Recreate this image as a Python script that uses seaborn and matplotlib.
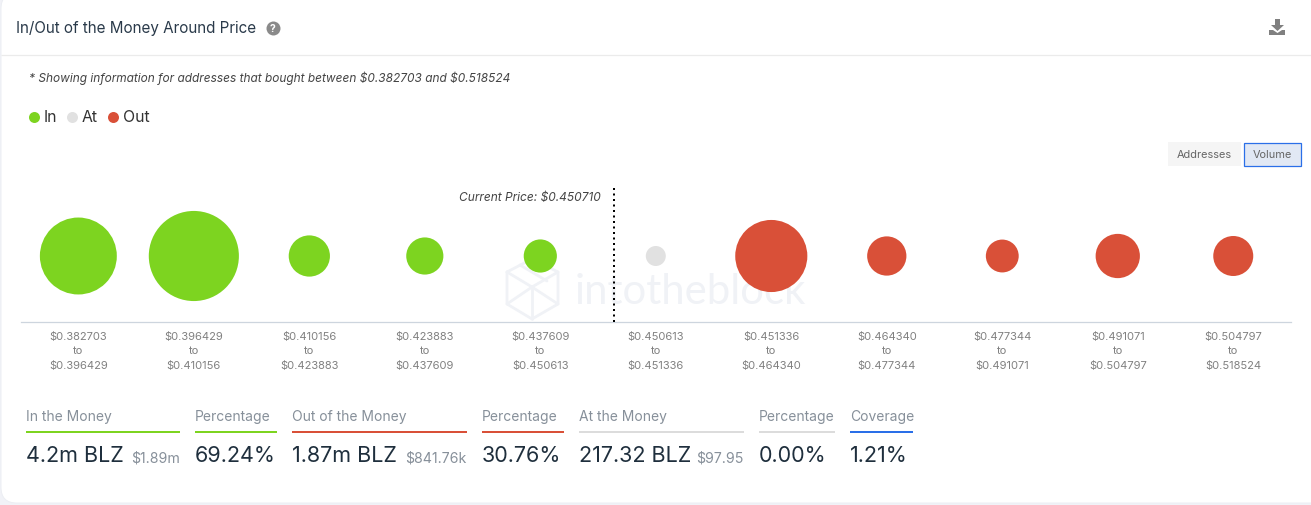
import numpy as np
import pandas as pd
import seaborn as sns
import matplotlib
matplotlib.use("Agg")
import matplotlib.pyplot as plt
from matplotlib.lines import Line2D
from matplotlib.patches import FancyBboxPatch, Polygon, Rectangle

bin_low = ["$0.382703", "$0.396429", "$0.410156", "$0.423883", "$0.437609", "$0.450613",
           "$0.451336", "$0.464340", "$0.477344", "$0.491071", "$0.504797"]
bin_high = ["$0.396429", "$0.410156", "$0.423883", "$0.437609", "$0.450613", "$0.451336",
            "$0.464340", "$0.477344", "$0.491071", "$0.504797", "$0.518524"]
status = ["In", "In", "In", "In", "In", "At", "Out", "Out", "Out", "Out", "Out"]
bubble_value = [1480, 2030, 425, 345, 275, 100, 1300, 385, 270, 490, 400]
current_price_pos = 4.64

stat_labels = ["In the Money", "Percentage", "Out of the Money", "Percentage",
               "At the Money", "Percentage", "Coverage"]
stat_values = ["4.2m BLZ", "69.24%", "1.87m BLZ", "30.76%", "217.32 BLZ", "0.00%", "1.21%"]
stat_usd = ["$1.89m", "", "$841.76k", "", "$97.95", "", ""]

GREEN, GREY, RED, BLUE = "#7dd420", "#e1e1e1", "#d95038", "#2a6fe8"
palette = {"In": GREEN, "At": GREY, "Out": RED}

W, H = 1311, 505
sns.set_theme(style="white")
plt.rcParams["font.family"] = ["Inter", "DejaVu Sans"]
plt.rcParams["text.parse_math"] = False
fig = plt.figure(figsize=(W / 100, H / 100), dpi=100, facecolor="#f1f2f7")


def fx(x):
    return x / W


def fy(y):
    return 1 - y / H


def txt(x, y, s, size, color="#22303f", ha="left", style="normal", weight="normal", zorder=3, family=None):
    return fig.text(fx(x), fy(y), s, fontsize=size, color=color, ha=ha, va="center_baseline",
                    fontstyle=style, fontweight=weight, zorder=zorder, family=family)


def hline(x0, x1, y, color, lw=2.0, zorder=3):
    fig.add_artist(Line2D([fx(x0), fx(x1)], [fy(y), fy(y)], color=color, lw=lw / 1.389,
                          solid_capstyle="butt", zorder=zorder))


def poly(points, **kw):
    fig.add_artist(Polygon([(fx(a), fy(b)) for a, b in points], closed=True,
                           transform=fig.transFigure, **kw))


# card
fig.add_artist(FancyBboxPatch((fx(1), fy(503)), fx(1340), 510 / H, transform=fig.transFigure,
                              boxstyle="round,pad=0,rounding_size=0.012", mutation_aspect=W / H,
                              fc="white", ec="#eceef3", lw=0.7, zorder=-5))
hline(1, W, 54.5, "#ebebeb", 1.2, zorder=-4)

# watermark
txt(575, 288, "intotheblock", 30.2, color="#f0f2f6", zorder=-3, family="Lato")
wm = "#f0f2f6"
for seg in [[(507, 272), (532, 259), (558, 272), (558, 304), (532, 319), (507, 304), (507, 272)],
            [(507, 272), (532, 287), (558, 272)], [(507, 304), (532, 287), (558, 304)],
            [(532, 287), (532, 319)], [(520, 265), (547, 281)]]:
    fig.add_artist(Line2D([fx(a) for a, b in seg], [fy(b) for a, b in seg], color=wm, lw=2.0, zorder=-3))

# header
txt(16, 27, "In/Out of the Money Around Price", 10.95, color="#2a3a4a")
fig.add_artist(Line2D([fx(273)], [fy(28)], marker="o", ms=14 / 1.389, color="#8a8a8a", mew=0))
txt(273, 28, "?", 7.5, color="white", ha="center", weight="bold")
poly([(1275, 19), (1280, 19), (1280, 25), (1284, 25), (1277.5, 31), (1271, 25), (1275, 25)], fc="#808080", ec="none")
poly([(1269, 30), (1273, 30), (1277.5, 33), (1282, 30), (1285, 30), (1285, 35), (1269, 35)], fc="#808080", ec="none")

txt(29, 77, "* Showing information for addresses that bought between $0.382703 and $0.518524",
    8.56, color="#444444", style="italic")

# legend
for x_dot, x_txt, name in [(34, 44, "In"), (72, 82, "At"), (113, 123, "Out")]:
    fig.add_artist(Line2D([fx(x_dot)], [fy(116.5)], marker="o", ms=11 / 1.389, color=palette[name], mew=0))
    txt(x_txt, 116.5, name, 11.4, color="#333333")

# buttons
fig.add_artist(Rectangle((fx(1168), fy(166)), 73 / W, 24 / H, transform=fig.transFigure, fc="#f5f5f5", ec="none"))
txt(1204.5, 154.5, "Addresses", 7.9, color="#666666", ha="center")
fig.add_artist(Rectangle((fx(1244), fy(165.5)), 56.5 / W, 23 / H, transform=fig.transFigure,
                         fc="#e1e8f4", ec=BLUE, lw=0.9))
txt(1272.5, 154.5, "Volume", 7.9, color="#666666", ha="center")

# bubbles
ax = fig.add_axes([fx(20.6), fy(322), (1291 - 20.6) / W, (322 - 185) / H])
ax.patch.set_alpha(0)
bins = [f"{a}\nto\n{b}" for a, b in zip(bin_low, bin_high)]
df = pd.DataFrame({"bin": bins, "status": status, "value": bubble_value, "level": np.zeros(len(bins))})
area = 2.0736
sns.scatterplot(data=df, x="bin", y="level", hue="status", palette=palette, size="value",
                sizes=(min(bubble_value) * area, max(bubble_value) * area),
                size_norm=(min(bubble_value), max(bubble_value)),
                linewidth=0, alpha=1, legend=False, ax=ax, zorder=3)
ax.set_xlim(-0.5, 10.5)
ax.set_ylim(-66, 71)
ax.set_xlabel("")
ax.set_ylabel("")
ax.set_yticks([])
ax.tick_params(axis="x", length=0, pad=7, labelsize=8.0, labelcolor="#808080")
for lab in ax.get_xticklabels():
    lab.set_linespacing(1.55)
sns.despine(ax=ax, left=True)
ax.spines["bottom"].set_color("#cdd5de")
ax.spines["bottom"].set_linewidth(0.9)
ax.plot([current_price_pos] * 2, [-66, 68], color="black", lw=1.44, linestyle=(0, (1, 1.75)),
        dash_capstyle="butt", zorder=4)
txt(601, 197, "Current Price: $0.450710", 8.6, color="#444444", ha="right", style="italic")

# stats
stat_x0 = [26, 195, 292, 482, 579, 759, 850]
stat_x1 = [180, 277, 467, 564, 744, 835, 913]
stat_color = [GREEN, GREEN, RED, RED, "#dcdcdc", "#dcdcdc", BLUE]
for lbl, val, usd, x0, x1, col in zip(stat_labels, stat_values, stat_usd, stat_x0, stat_x1, stat_color):
    txt(x0, 415, lbl, 10.0, color="#87909a")
    hline(x0, x1, 432, col, 2.0)
    txt(x0, 454.5, val, 15.5, color="#1f2f3d")
    if usd:
        txt(x1, 456.5, usd, 10.2, color="#87909a", ha="right")

fig.savefig("out.png", dpi=100, facecolor=fig.get_facecolor())
